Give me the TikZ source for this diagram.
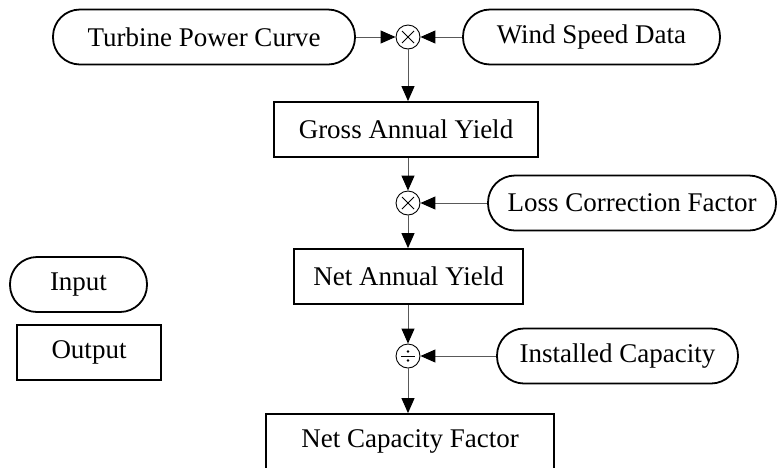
\documentclass[tikz,border=0pt]{standalone}
\usepackage{fontspec}
\setmainfont{Liberation Serif}
\usetikzlibrary{arrows.meta,calc}

\tikzset{
  lbl/.style={font=\fontsize{27}{32}\selectfont, inner sep=0pt},
  pill/.style={lbl, draw=black, line width=1.8pt, rounded corners=27pt,
    minimum height=55pt},
  outbox/.style={lbl, draw=black, line width=1.8pt, minimum height=55pt},
  opnode/.style={circle, draw=black, line width=0.9pt, minimum size=24pt,
    inner sep=0pt},
  mulop/.style={opnode, path picture={
      \draw[line width=0.8pt]
        ($(path picture bounding box.center)+(-6pt,-6pt)$) -- ++(12pt,12pt)
        ($(path picture bounding box.center)+(-6pt,6pt)$) -- ++(12pt,-12pt);}},
  divop/.style={opnode, path picture={
      \draw[line width=0.8pt]
        ($(path picture bounding box.center)+(-7pt,0pt)$) -- ++(14pt,0pt);
      \fill ($(path picture bounding box.center)+(0pt,4.5pt)$) circle (1.3pt);
      \fill ($(path picture bounding box.center)+(0pt,-4.5pt)$) circle (1.3pt);}},
  flow/.style={draw=black!65, line width=1pt,
    -{Triangle[length=15pt,width=13pt,color=black]}}
}

\begin{document}
\begin{tikzpicture}[x=1pt,y=-1pt]
  \useasboundingbox (0,0) rectangle (778,467);

  % inputs along the top
  \node[pill, minimum width=302pt] (tpc) at (204,37) {Turbine Power Curve};
  \node[pill, minimum width=257pt] (wsd) at (591.5,37) {Wind Speed Data};
  \node[mulop] (m1) at (408,37) {};

  % gross yield and loss correction
  \node[outbox, minimum width=264pt] (gay) at (406,129.5) {Gross Annual Yield};
  \node[mulop] (m2) at (408,203) {};
  \node[pill, minimum width=288pt] (lcf) at (632,203) {Loss Correction Factor};

  % net yield and capacity
  \node[outbox, minimum width=229pt] (nay) at (408.5,276.5) {Net Annual Yield};
  \node[divop] (m3) at (408,356) {};
  \node[pill, minimum width=241pt] (ic) at (617.5,356) {Installed Capacity};
  \node[outbox, minimum width=288pt] (ncf) at (410,441.5) {Net Capacity Factor};

  % legend
  \node[pill, minimum width=137pt] (legin) at (78.5,284.5) {Input};
  \node[outbox, minimum width=144pt] (legout) at (89,352.5) {Output};

  % connectors
  \draw[flow] (tpc.east) -- (m1.west);
  \draw[flow] (wsd.west) -- (m1.east);
  \draw[flow] (m1.south) -- (m1.south |- gay.north);
  \draw[flow] (m2.north |- gay.south) -- (m2.north);
  \draw[flow] (lcf.west) -- (m2.east);
  \draw[flow] (m2.south) -- (m2.south |- nay.north);
  \draw[flow] (m3.north |- nay.south) -- (m3.north);
  \draw[flow] (ic.west) -- (m3.east);
  \draw[flow] (m3.south) -- (m3.south |- ncf.north);
\end{tikzpicture}
\end{document}
